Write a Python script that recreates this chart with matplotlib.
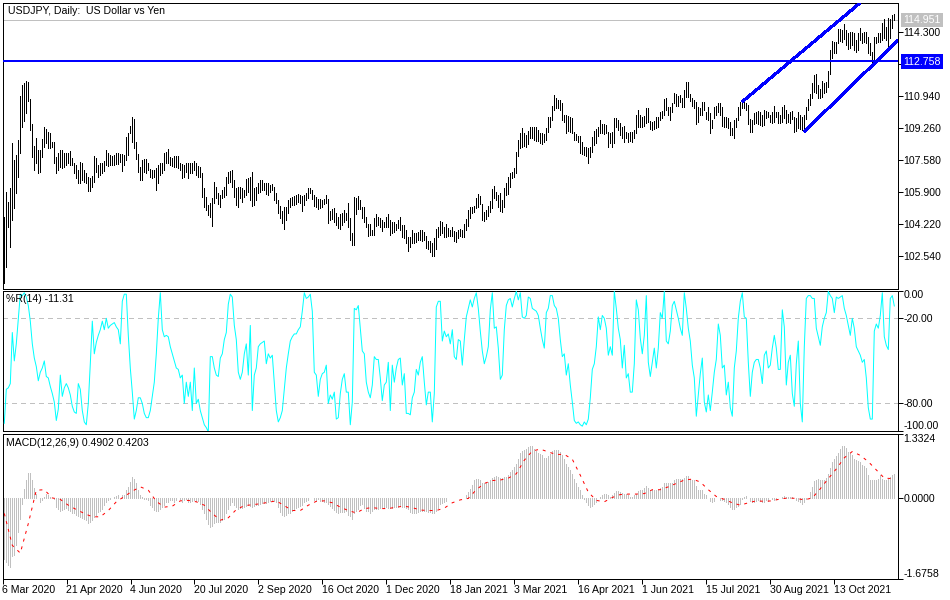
import matplotlib
matplotlib.use("Agg")
import matplotlib.pyplot as plt

plt.rcParams['font.family'] = ['Liberation Sans', 'DejaVu Sans']

title_main = "USDJPY, Daily:  US Dollar vs Yen"
title_wpr = "%R(14) -11.31"
title_macd = "MACD(12,26,9) 0.4902 0.4203"
date_labels = ["6 Mar 2020", "21 Apr 2020", "4 Jun 2020", "20 Jul 2020", "2 Sep 2020", "16 Oct 2020", "1 Dec 2020",
               "18 Jan 2021", "3 Mar 2021", "16 Apr 2021", "1 Jun 2021", "15 Jul 2021", "30 Aug 2021", "13 Oct 2021"]
price_ticks = [114.300, 112.620, 110.940, 109.260, 107.580, 105.900, 104.220, 102.540]
bid_price = 114.951
level_price = 112.758
channel_upper = ([369, 428], [110.66, 115.86])
channel_lower = ([400, 447], [109.09, 113.90])

highs = [
104.63,105.94,105.41,106.11,108.48,107.60,107.86,108.65,110.96,111.54,111.63,111.75,111.71,110.79,109.47,108.34,108.74,108.13,108.13,108.69,
109.35,109.21,109.09,109.04,108.56,108.56,107.78,107.95,108.13,108.13,107.95,107.95,107.99,108.09,107.69,107.43,107.34,107.08,107.48,107.43,
107.08,106.90,106.73,106.64,106.76,107.81,107.69,107.34,107.43,107.43,107.57,108.13,107.95,107.86,107.81,107.86,107.99,107.95,107.92,107.92,
107.86,108.83,109.04,109.39,109.84,109.74,108.56,107.92,107.25,107.60,107.64,107.64,107.43,107.11,107.08,107.08,107.16,107.34,107.46,107.43,
107.95,108.04,108.18,107.78,107.69,107.81,107.81,107.81,107.43,107.39,107.34,107.43,107.43,107.46,107.43,107.57,107.43,107.29,107.25,106.90,
106.11,105.68,105.24,105.33,105.59,106.46,106.20,105.85,105.76,106.03,106.20,106.73,106.99,107.04,107.08,106.55,106.11,106.20,106.20,106.11,
106.03,106.59,106.64,106.73,106.95,106.11,106.20,106.38,106.55,106.55,106.41,106.38,106.38,106.29,106.34,106.20,105.85,105.50,105.19,104.94,
105.12,105.12,105.50,105.59,105.68,105.71,105.76,105.82,
105.76,105.71,105.76,105.85,106.11,106.11,106.03,105.76,105.64,105.55,105.54,105.50,105.54,105.76,105.55,104.94,105.01,105.06,104.80,104.63,
104.77,104.80,104.98,104.80,105.36,104.54,103.75,105.68,105.59,105.71,105.50,105.15,105.15,104.59,104.24,104.24,103.93,104.54,104.77,104.63,
104.54,104.45,104.36,104.59,104.77,104.45,104.36,104.36,104.24,104.45,104.59,104.19,104.19,103.93,103.58,103.58,103.93,103.75,103.75,103.84,
103.93,103.93,103.84,103.61,103.37,103.37,103.23,103.49,103.98,104.10,104.40,104.36,104.10,104.24,104.01,103.93,104.07,103.87,103.84,103.93,
103.98,103.93,104.24,104.50,104.98,105.12,105.12,105.20,105.59,105.82,105.73,105.29,104.89,104.98,105.19,105.47,106.08,106.24,105.94,105.76,
105.85,105.50,106.11,106.41,106.73,106.90,106.95,107.16,108.04,108.65,109.00,109.26,109.00,108.91,109.14,109.35,109.35,109.35,109.35,109.18,
109.00,109.00,108.97,109.26,109.84,109.88,110.44,111.01,110.84,110.75,110.75,110.58,109.96,109.96,109.91,109.84,109.79,109.09,108.97,108.86,
108.86,108.56,108.30,108.27,108.21,108.27,108.79,109.14,109.21,109.35,109.70,109.49,109.49,109.44,109.09,109.04,109.05,109.79,109.79,109.70,
109.53,109.35,109.39,109.09,109.04,109.09,109.09,109.18,109.96,110.23,109.96,109.88,109.91,110.31,110.35,109.67,109.61,109.67,109.84,109.88,
110.14,110.19,110.79,110.84,110.40,110.40,110.58,111.10,111.05,110.98,111.01,110.84,111.28,111.68,111.68,111.07,110.87,110.75,110.66,110.40,
110.31,110.66,110.66,110.14,110.37,110.05,109.70,110.40,110.44,110.58,110.58,110.40,109.88,109.88,109.79,109.61,109.26,109.70,109.79,110.40,
110.66,110.66,110.66,110.58,110.49,109.74,109.70,110.05,110.14,110.19,110.14,109.96,110.23,110.19,110.14,109.96,110.14,110.44,110.14,110.14,
109.96,110.37,110.49,110.23,110.02,110.14,110.19,109.84,109.79,110.14,109.96,109.88,109.96,110.37,110.80,111.05,111.63,112.06,112.12,111.54,
111.31,111.75,111.63,111.71,112.27,113.38,113.85,113.81,113.81,114.46,114.46,114.43,114.74,114.43,114.25,114.34,114.30,114.29,113.90,114.25,
114.51,114.25,114.34,114.30,114.04,113.73,113.29,114.04,114.08,114.29,114.25,114.78,115.00,114.60,115.04,114.99,115.21,115.27]

lows = [
101.16,102.00,104.10,103.05,104.45,105.06,105.89,106.73,107.99,109.32,109.67,110.05,110.72,109.18,107.74,107.08,107.43,106.90,106.99,107.78,
108.30,108.48,108.21,108.21,108.30,107.46,106.94,107.08,107.25,107.16,107.25,107.34,107.43,107.34,107.34,106.90,106.64,106.38,106.38,106.55,
106.46,106.38,105.99,105.99,106.20,106.46,106.99,106.73,106.81,106.90,107.04,107.34,107.29,107.34,107.34,107.34,107.39,107.39,107.51,107.04,
107.34,107.60,107.86,109.00,108.56,108.21,107.64,106.99,106.55,106.55,106.99,106.90,107.08,106.69,106.64,106.73,106.03,106.38,106.81,106.90,
107.08,107.43,107.43,107.34,107.29,107.25,107.25,107.16,107.08,106.64,106.73,106.99,106.64,106.90,106.90,107.08,106.81,106.73,106.69,105.68,
105.12,104.98,104.71,104.63,104.14,105.33,105.59,105.29,105.15,105.59,105.68,105.76,106.38,106.46,106.20,105.68,105.24,105.12,105.59,105.41,
105.68,105.76,105.94,105.50,105.20,105.24,105.50,105.85,105.94,106.03,106.03,105.82,105.76,105.94,106.03,105.50,105.33,104.80,104.54,104.28,
103.98,104.45,104.80,105.15,105.24,105.24,105.29,105.41,
105.33,104.94,105.24,105.50,105.59,105.85,105.55,105.20,105.12,105.03,105.06,105.15,105.29,105.33,104.31,104.45,104.49,104.36,104.19,104.01,
103.96,104.19,104.36,104.45,104.10,103.40,103.14,103.14,104.77,105.01,105.01,104.54,104.36,104.10,103.61,103.66,103.66,103.66,104.14,104.19,
104.10,103.89,104.10,104.10,104.10,103.66,103.75,103.84,103.93,104.01,103.93,103.54,103.49,103.23,102.84,103.02,103.23,103.26,103.31,103.40,
103.40,103.37,103.40,102.96,102.91,102.79,102.58,102.58,102.91,103.54,103.66,103.75,103.54,103.58,103.61,103.61,103.61,103.37,103.31,103.49,
103.61,103.54,103.58,103.93,104.14,104.54,104.80,104.89,105.06,105.15,105.29,104.45,104.42,104.49,104.66,104.89,105.06,105.59,105.50,105.12,
104.94,104.89,105.12,105.76,105.82,106.20,106.64,106.69,106.94,107.81,108.21,108.30,108.34,108.30,108.44,108.74,108.74,108.65,108.62,108.62,
108.48,108.44,108.56,108.65,109.09,109.35,109.70,110.23,110.31,110.31,110.23,109.70,109.61,109.00,109.14,109.09,109.00,108.65,108.65,108.56,
107.99,107.92,107.86,107.81,107.46,107.78,108.04,108.39,108.48,108.86,109.00,109.00,108.97,109.00,108.30,108.48,108.30,108.51,109.35,109.18,
108.91,108.74,108.56,108.74,108.56,108.62,108.56,108.74,109.00,109.35,109.32,109.35,109.39,109.53,109.61,109.21,109.18,109.21,109.26,109.32,
109.70,109.79,109.96,110.23,109.96,109.70,110.14,110.58,110.44,110.44,110.66,110.40,110.40,110.93,110.93,110.72,110.44,110.31,109.49,109.61,
109.96,109.96,110.23,109.74,109.70,109.04,109.26,109.79,109.96,110.14,109.96,109.39,109.35,109.35,109.26,108.91,108.91,108.74,109.35,109.70,
109.96,110.31,110.31,110.23,109.49,109.09,109.09,109.49,109.56,109.49,109.44,109.39,109.44,109.79,109.88,109.61,109.56,109.61,109.84,109.56,
109.56,109.61,109.79,109.56,109.61,109.56,109.74,109.09,109.14,109.26,109.21,109.18,109.09,109.74,110.23,110.49,110.84,111.19,111.10,110.84,
110.84,110.89,111.10,111.19,111.45,112.12,112.94,113.20,113.20,113.76,113.87,113.81,113.94,113.64,113.41,113.46,113.64,113.38,113.25,113.38,
113.90,113.73,113.81,113.73,113.20,113.11,112.76,112.76,113.76,113.78,113.81,113.90,113.99,113.90,113.52,113.99,114.51,114.95]

wpr = [
-94,-70,-69,-66,-30,-50,-38,-20,-3,-4,-2,-5,-11,-22,-38,-48,-54,-64,-58,-55,
-50,-61,-62,-68,-73,-79,-92,-84,-60,-75,-69,-66,-69,-74,-82,-86,-87,-66,-70,-85,
-93,-95,-80,-52,-22,-45,-37,-32,-28,-22,-28,-20,-27,-25,-24,-23,-26,-28,-38,-8,
-3,-3,-32,-55,-72,-91,-85,-76,-76,-80,-87,-90,-90,-85,-75,-65,-45,-20,-2,-28,
-33,-32,-33,-40,-45,-50,-55,-56,-62,-60,-80,-65,-75,-65,-85,-55,-80,-77,-85,-90,
-95,-97,-100,-47,-47,-55,-60,-61,-48,-45,-35,-30,-10,-3,-5,-25,-35,-58,-63,-58,
-45,-38,-60,-25,-85,-60,-55,-40,-38,-37,-36,-52,-45,-48,-46,-65,-85,-93,-90,-85,
-70,-55,-45,-36,-33,-31,-31,-28,-26,-15,-2,-6,-5,-3,-15,-58,-60,-75,
-63,-59,-58,-53,-80,-74,-77,-72,-91,-90,-73,-63,-59,-72,-72,-95,-79,-13,-14,-11,
-27,-43,-45,-65,-72,-76,-67,-47,-49,-49,-62,-78,-67,-65,-51,-85,-53,-65,-55,-49,
-48,-67,-59,-87,-87,-88,-76,-72,-56,-60,-51,-47,-65,-81,-72,-72,-93,-73,-12,-8,
-8,-36,-29,-33,-31,-38,-28,-47,-49,-35,-36,-53,-35,-19,-13,-7,-12,-6,-2,-13,
-29,-43,-52,-47,-40,-14,-2,-27,-26,-41,-63,-60,-28,-11,-7,-6,-12,-6,-1,-7,
-2,-19,-20,-18,-5,-6,-13,-14,-15,-18,-27,-35,-41,-16,-13,-4,-4,-11,-13,-20,
-35,-47,-45,-60,-52,-67,-79,-92,-94,-93,-95,-96,-93,-95,-91,-76,-56,-52,-40,-19,
-28,-18,-20,-27,-46,-40,-46,-1,-13,-27,-35,-55,-39,-62,-59,-72,-72,-52,-7,-14,
-34,-45,-32,-4,-51,-61,-51,-41,-55,-41,-16,-20,-1,-36,-38,-29,-11,-8,-14,-20,
-27,-32,-2,-13,-27,-36,-53,-62,-89,-74,-59,-48,-79,-86,-74,-85,-72,-58,-49,-24,
-32,-55,-53,-74,-65,-83,-89,-55,-43,-20,-8,-2,-19,-20,-51,-75,-58,-51,-49,-49,
-55,-66,-46,-43,-55,-53,-41,-32,-41,-56,-56,-14,-26,-67,-51,-46,-73,-82,-52,-36,
-80,-93,-40,-6,-4,-4,-6,-6,-27,-33,-39,-26,-20,-16,-1,-4,-6,-16,-5,-6,
-5,-4,-13,-18,-25,-32,-20,-27,-40,-43,-46,-51,-49,-62,-83,-91,-91,-29,-24,-27,
-18,-2,-33,-39,-42,-6,-4,-11.31]

macd_hist = [
-1.26,-1.32,-1.39,-1.43,-1.21,-1.17,-.98,-.70,-.43,-.12,.18,.38,.52,.52,.38,.21,.09,-.01,-.08,-.05,
.02,.09,.06,.02,-.01,-.03,-.19,-.22,-.26,-.24,-.22,-.20,-.24,-.26,-.31,-.32,-.36,-.38,-.39,-.41,
-.43,-.45,-.52,-.50,-.45,-.39,-.36,-.29,-.26,-.22,-.15,-.08,-.05,-.03,-.01,.02,.03,.06,-.01,.06,
.06,.16,.23,.33,.43,.40,.30,.16,.06,.02,-.03,-.03,-.05,-.15,-.19,-.24,-.26,-.26,-.22,-.19,
-.15,-.08,-.08,-.05,-.05,-.08,-.05,-.01,-.03,-.08,-.05,-.03,-.08,-.08,-.06,-.05,-.06,-.06,-.12,-.22,
-.32,-.43,-.53,-.60,-.57,-.52,-.50,-.50,-.50,-.46,-.43,-.32,-.22,-.15,-.08,-.15,-.19,-.22,-.20,-.20,
-.19,-.17,-.15,-.17,-.19,-.17,-.15,-.15,-.13,-.10,-.10,-.10,-.08,-.06,-.05,-.06,-.08,-.19,-.29,-.36,
-.38,-.36,-.32,-.31,-.26,-.22,-.20,-.19,-.17,-.15,-.08,-.06,-.05,-.01,-.01,-.05,-.06,-.03,
-.06,-.06,-.08,-.08,-.13,-.17,-.20,-.24,-.29,-.31,-.29,-.29,-.29,-.26,-.36,-.38,-.43,-.31,-.26,-.22,
-.15,-.13,-.20,-.26,-.26,-.31,-.26,-.22,-.22,-.22,-.20,-.19,-.20,-.19,-.20,-.20,-.20,-.19,-.19,-.19,
-.17,-.19,-.19,-.20,-.22,-.29,-.31,-.31,-.31,-.29,-.26,-.26,-.26,-.27,-.29,-.29,-.32,-.32,-.26,-.20,
-.13,-.10,-.08,-.06,-.01,-.01,-.01,-.01,-.01,-.01,-.01,-.01,-.01,.06,.12,.19,.26,.37,.40,.40,
.37,.30,.30,.30,.33,.37,.41,.43,.45,.43,.41,.42,.43,.43,.47,.54,.57,.64,.71,.81,
.92,.97,1.00,1.02,1.06,1.07,1.07,1.02,.97,.92,.90,.88,.83,.83,.86,.90,.97,.99,1.00,1.00,
.95,.88,.81,.71,.64,.57,.50,.40,.30,.23,.16,.06,-.03,-.08,-.15,-.19,-.17,-.13,-.08,-.01,
.02,.06,.08,.08,.06,.02,.06,.11,.14,.14,.12,.10,.09,.09,.06,.02,.02,.06,.09,.14,
.16,.17,.21,.24,.21,.17,.17,.17,.17,.17,.21,.23,.30,.31,.31,.31,.31,.38,.40,.40,
.40,.40,.42,.45,.45,.40,.38,.37,.24,.17,.17,.16,.08,.06,-.01,-.06,-.08,-.06,-.01,-.01,
-.05,-.05,-.06,-.08,-.12,-.19,-.22,-.22,-.19,-.17,-.12,-.03,.02,.03,-.01,-.06,-.08,-.08,-.06,-.05,
-.06,-.08,-.08,-.05,-.06,-.01,-.03,-.05,-.03,-.01,-.01,.02,.03,.01,.01,.02,.02,-.01,-.05,-.06,
-.08,-.12,-.08,-.03,-.01,.12,.23,.35,.37,.39,.38,.37,.38,.42,.49,.61,.75,.81,.86,.93,
1.02,1.07,1.07,1.04,.95,.92,.88,.81,.79,.77,.75,.68,.66,.61,.47,.38,.37,.38,.38,.40,
.47,.40,.38,.38,.40,.43,.47,.4902]

signal_bars = list(range(0, 446, 4)) + [445]
signal_vals = [
-.32,-.98,-1.14,-.53,.16,.17,0,-.03,-.15,-.24,-.32,-.39,-.39,-.26,-.08,.03,.14,.23,.16,-.07,
-.19,-.17,-.06,-.05,-.08,-.15,-.32,-.46,-.41,-.24,-.16,-.14,-.12,-.09,-.06,-.16,-.26,-.26,-.15,-.07,
-.06,-.10,-.19,-.26,-.31,-.22,-.20,-.22,-.22,-.19,-.17,-.20,-.25,-.26,-.26,-.21,-.10,-.04,-.01,.17,
.30,.36,.37,.41,.50,.78,.97,1.01,.95,.90,.90,.80,.47,.12,-.05,-.08,.01,.07,.08,.08,
.09,.17,.17,.23,.30,.37,.39,.33,.17,.03,-.03,-.10,-.15,-.10,-.06,-.07,-.06,-.02,0,-.01,
-.04,0,.19,.40,.60,.83,.96,.88,.75,.58,.41,.40,.4203]

W, H = 950, 600
BLUE = "#0000FF"
SILVER = "#C0C0C0"
FS = 7.6
LW = 0.72

fig = plt.figure(figsize=(W / 100, H / 100), dpi=100, facecolor="white")


def pane(top, bottom, left=2.5, right=897.5):
    ax = fig.add_axes([left / W, 1 - bottom / H, (right - left) / W, (bottom - top) / H])
    ax.set_xlim(-0.9, 446.6)
    for s in ax.spines.values():
        s.set_linewidth(LW)
        s.set_color("black")
    ax.yaxis.tick_right()
    ax.tick_params(axis="y", length=3.6, width=LW, labelsize=FS, pad=0.8, colors="black")
    ax.set_xticks([])
    return ax


bars = list(range(len(highs)))

# price pane
ax1 = pane(2.5, 288.5)
ax1.set_ylim(100.85, 115.87)
ax1.vlines(bars, lows, highs, color="black", linewidth=LW, antialiased=False, zorder=3)
ax1.axhline(bid_price, color=SILVER, linewidth=LW, antialiased=False, zorder=1)
ax1.axhline(level_price + 0.03, color=BLUE, linewidth=1.44, antialiased=False, zorder=4)
ax1.plot(channel_upper[0], channel_upper[1], color=BLUE, linewidth=1.5, solid_capstyle="butt", antialiased=False, zorder=4)
ax1.plot(channel_lower[0], channel_lower[1], color=BLUE, linewidth=1.5, solid_capstyle="butt", antialiased=False, zorder=4)
ax1.set_yticks(price_ticks)
ax1.set_yticklabels(["" if abs(v - 112.62) < 1e-6 else f"{v:.3f}" for v in price_ticks])
for val, bg in ((bid_price, SILVER), (level_price, BLUE)):
    ax1.annotate(f"{val:.3f}", xy=(1, val), xycoords=("axes fraction", "data"), xytext=(4.0, 0),
                 textcoords="offset points", va="center", ha="left", fontsize=FS, color="white", zorder=10,
                 annotation_clip=False,
                 bbox=dict(boxstyle="square,pad=0.22", facecolor=bg, edgecolor=bg, linewidth=0))
ax1.text(5 / 895, 1 - 8 / 286, title_main, transform=ax1.transAxes, fontsize=FS, va="center", ha="left", zorder=11)

# %R pane
ax2 = pane(290.5, 431)
ax2.set_ylim(-99.4, -0.4)
wbars = list(range(len(wpr)))
ax2.plot(wbars, wpr, color="#00FFFF", linewidth=LW, antialiased=True, zorder=3)
for lev in (-20, -80):
    ax2.axhline(lev, color=SILVER, linewidth=0.5, linestyle=(0, (6, 6)), antialiased=False, zorder=1)
ax2.set_yticks([-0.4, -20, -80, -99.4])
ax2.set_yticklabels(["0.00", "-20.00", "-80.00", "-100.00"])
lbls = ax2.get_yticklabels()
lbls[0].set_va("top")
lbls[-1].set_va("bottom")
ax2.text(3.5 / 895, 1 - 8.5 / 140.5, title_wpr, transform=ax2.transAxes, fontsize=FS, va="center", ha="left", zorder=11)

# MACD pane
ax3 = pane(433.5, 579)
ax3.set_ylim(-1.6758, 1.3324)
hbars = list(range(len(macd_hist)))
ax3.vlines(hbars, 0, macd_hist, color=SILVER, linewidth=LW, antialiased=False, zorder=2)
ax3.plot(signal_bars, signal_vals, color="#FF0000", linewidth=LW,
         linestyle=(0, (3, 5)), antialiased=True, zorder=3)
ax3.set_yticks([1.3324, 0, -1.6758])
ax3.set_yticklabels(["1.3324", "0.0000", "-1.6758"])
lbls = ax3.get_yticklabels()
lbls[0].set_va("top")
lbls[-1].set_va("bottom")
ax3.text(3 / 895, 1 - 9 / 145.5, title_macd, transform=ax3.transAxes, fontsize=FS, va="center", ha="left", zorder=11)
ax3.set_xticks([-0.9 + 32 * k for k in range(len(date_labels))])
ax3.set_xticklabels(date_labels, ha="left", fontsize=FS)
ax3.tick_params(axis="x", length=3.6, width=LW, pad=0.5)

fig.savefig("out.png", dpi=100, facecolor="white")
